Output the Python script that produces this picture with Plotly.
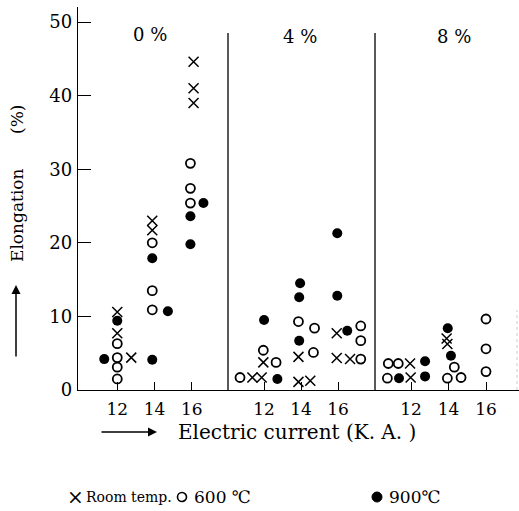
import plotly.graph_objects as go

# ---------------- data ----------------
panels = ["0 %", "4 %", "8 %"]
x_ticks = [12, 14, 16]
y_ticks = [0, 10, 20, 30, 40, 50]

# 0 % panel
p0_room_x = [12.0, 12.0, 12.75, 13.88, 13.88, 16.1, 16.1, 16.1]
p0_room_y = [10.6, 7.7, 4.4, 23.0, 21.7, 44.6, 41.0, 39.0]
p0_600_x = [12.0, 12.0, 12.0, 12.0, 13.88, 13.88, 13.88, 15.93, 15.93, 15.93]
p0_600_y = [6.3, 4.4, 3.1, 1.5, 20.0, 13.5, 10.9, 30.8, 27.4, 25.4]
p0_900_x = [12.0, 11.3, 13.88, 14.72, 13.88, 16.63, 15.93, 15.93]
p0_900_y = [9.4, 4.2, 17.9, 10.7, 4.1, 25.4, 23.6, 19.8]

# 4 % panel
p4_room_x = [11.37, 11.87, 11.96, 13.86, 14.5, 13.86, 15.93, 15.93, 16.65]
p4_room_y = [1.7, 1.7, 3.75, 1.1, 1.25, 4.5, 7.7, 4.35, 4.2]
p4_600_x = [10.7, 12.65, 11.96, 14.67, 13.86, 14.73, 17.23, 17.23, 17.23]
p4_600_y = [1.7, 3.75, 5.4, 5.1, 9.3, 8.4, 4.2, 6.7, 8.7]
p4_900_x = [12.72, 12.0, 13.9, 13.9, 13.95, 15.96, 15.96, 16.5]
p4_900_y = [1.5, 9.5, 6.7, 12.6, 14.5, 21.3, 12.8, 8.05]

# 8 % panel
p8_room_x = [11.95, 11.98, 13.9, 13.94]
p8_room_y = [3.6, 1.7, 7.0, 6.25]
p8_600_x = [10.79, 11.32, 10.74, 14.31, 13.94, 14.67, 16.0, 16.0, 16.0]
p8_600_y = [3.6, 3.6, 1.6, 3.1, 1.6, 1.7, 9.65, 5.6, 2.5]
p8_900_x = [12.75, 11.36, 12.75, 13.96, 14.13]
p8_900_y = [3.9, 1.6, 1.85, 8.4, 4.65]

series_names = ["Room temp.", "600 ℃", "900℃"]

# ---------------- styling ----------------
FONT = "DejaVu Serif"
W, H = 519, 511
L, R, T, B = 78, 0, 7, 121
PW = W - L - R
PH = H - T - B

def px_x(p):
    return (p - L) / PW

def px_y(p):
    return (H - B - p) / PH

d1 = px_x(228)
d2 = px_x(375)
domains = [[0, d1], [d1, d2], [d2, 1]]
x_ranges = [[9.89, 17.95], [10.05, 18.0], [10.08, 17.76]]

room_style = dict(symbol="x-thin-open", size=10, color="black",
                  line=dict(color="black", width=1.5))
s600_style = dict(symbol="circle-open", size=9, color="black",
                  line=dict(color="black", width=1.8))
s900_style = dict(symbol="circle", size=10, color="black")

fig = go.Figure()

panel_data = [
    (p0_room_x, p0_room_y, p0_600_x, p0_600_y, p0_900_x, p0_900_y),
    (p4_room_x, p4_room_y, p4_600_x, p4_600_y, p4_900_x, p4_900_y),
    (p8_room_x, p8_room_y, p8_600_x, p8_600_y, p8_900_x, p8_900_y),
]
axis_ids = ["x", "x2", "x3"]
for i, (rx, ry, ox, oy, fx, fy) in enumerate(panel_data):
    xa = axis_ids[i]
    fig.add_trace(go.Scatter(x=rx, y=ry, mode="markers", marker=room_style,
                             name=series_names[0], xaxis=xa, yaxis="y", showlegend=False))
    fig.add_trace(go.Scatter(x=ox, y=oy, mode="markers", marker=s600_style,
                             name=series_names[1], xaxis=xa, yaxis="y", showlegend=False))
    fig.add_trace(go.Scatter(x=fx, y=fy, mode="markers", marker=s900_style,
                             name=series_names[2], xaxis=xa, yaxis="y", showlegend=False))

xaxis_common = dict(showline=True, linecolor="black", linewidth=1.3,
                    ticks="inside", ticklen=8, tickwidth=1.3, tickcolor="black",
                    tickvals=x_ticks, ticktext=[str(v) for v in x_ticks],
                    tickfont=dict(family=FONT, size=17, color="black"),
                    showgrid=False, zeroline=False, anchor="y",
                    ticklabelstandoff=3)

layout = dict(
    width=W, height=H,
    margin=dict(l=L, r=R, t=T, b=B),
    paper_bgcolor="white", plot_bgcolor="white",
    showlegend=False,
    font=dict(family=FONT, color="black"),
    yaxis=dict(range=[0, PH / 7.36], tickvals=y_ticks,
               showline=True, linecolor="black", linewidth=1.3,
               ticks="inside", ticklen=13, tickwidth=1.3, tickcolor="black",
               tickfont=dict(family=FONT, size=18, color="black"),
               ticklabelstandoff=1,
               showgrid=False, zeroline=False, anchor="x"),
)
for i, key in enumerate(["xaxis", "xaxis2", "xaxis3"]):
    layout[key] = dict(xaxis_common, domain=domains[i], range=x_ranges[i])
fig.update_layout(**layout)

# panel dividers
for xd in [d1, d2]:
    fig.add_shape(type="line", xref="paper", yref="paper", x0=xd, x1=xd,
                  y0=0, y1=px_y(33), line=dict(color="black", width=1.3))
# faint scan edge on the right
fig.add_shape(type="line", xref="paper", yref="paper", x0=px_x(517), x1=px_x(517),
              y0=0, y1=px_y(310), line=dict(color="#cccccc", width=1, dash="dot"))

def label(text, cx, cy, size, xanchor="center", angle=0):
    fig.add_annotation(text=text, xref="paper", yref="paper", x=px_x(cx), y=px_y(cy),
                       xanchor=xanchor, yanchor="middle", textangle=angle,
                       showarrow=False, font=dict(family=FONT, size=size, color="black"))

# panel labels
for lab, cx, cy in zip(panels, [150, 300, 454], [34, 37, 37]):
    label(lab, cx, cy, 18)

# y title with arrow
label("Elongation", 17, 215, 17, angle=-90)
label("(%)", 17, 120, 17, angle=-90)
fig.add_annotation(text="", xref="paper", yref="paper", x=px_x(16), y=px_y(285),
                   ax=0, ay=73, axref="pixel", ayref="pixel", showarrow=True,
                   arrowhead=2, arrowsize=1.2, arrowwidth=1.5, arrowcolor="black")

# x title with arrow
fig.add_annotation(text="", xref="paper", yref="paper", x=px_x(157), y=px_y(432),
                   ax=-57, ay=0, showarrow=True,
                   arrowhead=2, arrowsize=1.2, arrowwidth=1.5, arrowcolor="black")
label("Electric current (K. A. )", 297, 432, 20)

# legend row
LY = 497
label("×", 75, LY, 20)
label(series_names[0], 84, LY, 14, xanchor="left")
fig.add_shape(type="circle", xref="paper", yref="paper",
              x0=px_x(182 - 4.5), x1=px_x(182 + 4.5), y0=px_y(LY + 4.5), y1=px_y(LY - 4.5),
              line=dict(color="black", width=1.6))
label(series_names[1], 192, LY, 17, xanchor="left")
fig.add_shape(type="circle", xref="paper", yref="paper",
              x0=px_x(377 - 5), x1=px_x(377 + 5), y0=px_y(LY + 5), y1=px_y(LY - 5),
              line=dict(color="black", width=1), fillcolor="black")
label(series_names[2], 387, LY, 17, xanchor="left")

fig.write_html("out.html", config={"displayModeBar": False},
               post_script="document.body.style.margin='0';document.body.style.overflow='hidden';")
